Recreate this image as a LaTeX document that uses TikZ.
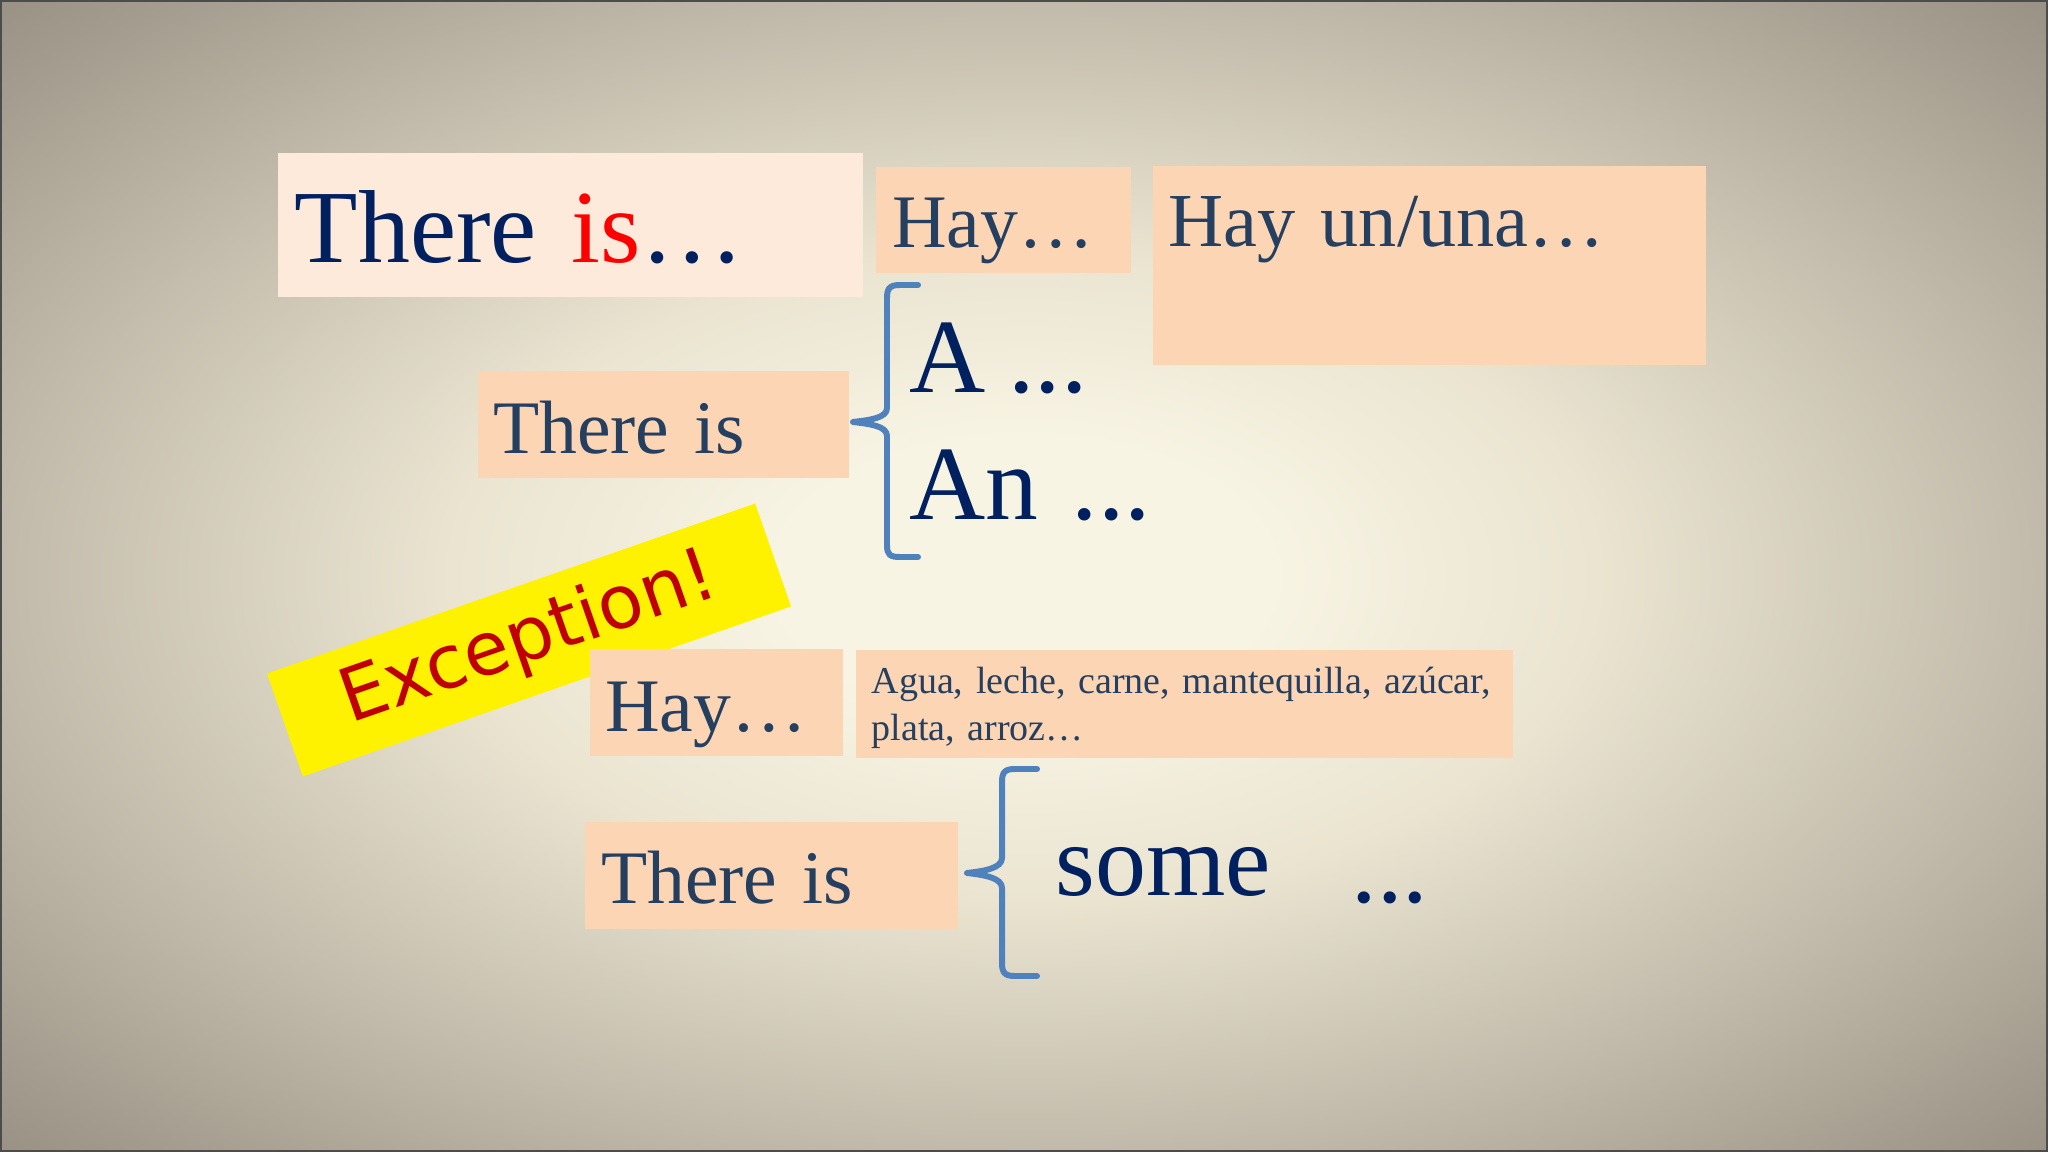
\documentclass[tikz,border=0pt]{standalone}
\usepackage{fontspec}
\setmainfont{Liberation Serif}[WordSpace=0.85]
\newfontfamily\exfont{DejaVu Sans}
\usepackage{tikz}
\usetikzlibrary{calc}
\frenchspacing
\hyphenpenalty=10000

\definecolor{navy}{RGB}{0,32,96}
\definecolor{slate}{RGB}{36,63,96}
\definecolor{peach}{RGB}{252,213,181}
\definecolor{lightpeach}{RGB}{253,234,219}
\definecolor{bracecol}{RGB}{79,129,189}
\definecolor{exred}{RGB}{192,0,0}
\definecolor{bgin}{RGB}{248,244,227}
\definecolor{bgmid}{RGB}{234,228,209}
\definecolor{bgedge}{RGB}{193,186,170}
\definecolor{bgcorner}{RGB}{150,143,130}
\pgfdeclareradialshading{slidebg}{\pgfpoint{0bp}{0bp}}{color(0bp)=(bgin); color(6bp)=(bgin); color(14bp)=(bgmid); color(25bp)=(bgedge); color(36bp)=(bgcorner); color(50bp)=(bgcorner)}

\begin{document}
\begin{tikzpicture}[x=0.01cm, y=-0.01cm,
  every node/.style={inner sep=0pt},
  box/.style={anchor=north west, fill=peach, align=left, inner ysep=0pt, text=slate},
  big/.style={font=\fontsize{30}{36}\selectfont, text=navy},
  mid/.style={font=\fontsize{21.5}{26}\selectfont},
  brace/.style={draw=bracecol, line width=1.7pt, line cap=round, line join=round}]
  \useasboundingbox (0,0) rectangle (2048,1152);
  \shade[shading=slidebg] (0,0) rectangle (2048,1152);
  \draw[black!70, line width=0.6pt] (1,1) rectangle (2047,1151);

  \node[box, big, font=\fontsize{29.5}{35}\selectfont, fill=lightpeach, inner xsep=4.9pt, text width=156.6pt, text height=31.3pt, text depth=9.7pt] (there) at (277,152) {There \textcolor{red}{is}…};
  \node[box, mid, inner xsep=4.7pt, text width=63.2pt, text height=23pt, text depth=7.1pt] (hay) at (875,166) {Hay…};
  \node[box, font=\fontsize{21.7}{26}\selectfont, inner xsep=4.4pt, text width=148.5pt, text height=23pt, text depth=33.6pt] (hayun) at (1152,165) {Hay un/una…};
  \node[box, mid, inner xsep=4.4pt, text width=96.8pt, text height=23.6pt, text depth=6.8pt] (thereis) at (477,370) {There is};
  \node[big, anchor=base west] (a) at (909,393) {A ...};
  \node[big, anchor=base west] (an) at (909,520) {An\hspace*{9.5pt}...};

  \node[fill=yellow, rotate=19.2, minimum width=147pt, minimum height=31pt, text=exred, font=\exfont\fontsize{21}{25}\selectfont] (exc) at (529,640) {Exception!};

  \node[box, mid, inner xsep=4.4pt, text width=63.2pt, text height=23.6pt, text depth=6.8pt] (hay2) at (589,648) {Hay…};
  \node[box, font=\fontsize{10.8}{13.3}\selectfont, inner xsep=4.55pt, text width=177.8pt, text height=12.5pt, text depth=18.2pt] (list) at (855,649) {\mbox{Agua, leche, carne, mantequilla, azúcar,}\\plata, arroz…};
  \node[box, mid, inner xsep=4.7pt, text width=96.7pt, text height=23.3pt, text depth=7.1pt] (thereis2) at (584,821) {There is};
  \node[big, font=\fontsize{29}{34}\selectfont, anchor=base west] (some) at (1055,895) {some\hspace*{23pt}\raisebox{-2pt}{...}};

  \draw[brace] (918,285) -- (900,285) .. controls (890,285) and (887,288) .. (887,298) -- (887,408) .. controls (887,418) and (870,420) .. (853,422) .. controls (870,424) and (887,426) .. (887,436) -- (887,545) .. controls (887,555) and (890,557) .. (900,557) -- (918,557);
  \draw[brace] (1037,769) -- (1015,769) .. controls (1005,769) and (1002,772) .. (1002,782) -- (1002,858) .. controls (1002,868) and (985,871) .. (967,873) .. controls (985,875) and (1002,878) .. (1002,888) -- (1002,963) .. controls (1002,973) and (1005,976) .. (1015,976) -- (1037,976);
\end{tikzpicture}
\end{document}
